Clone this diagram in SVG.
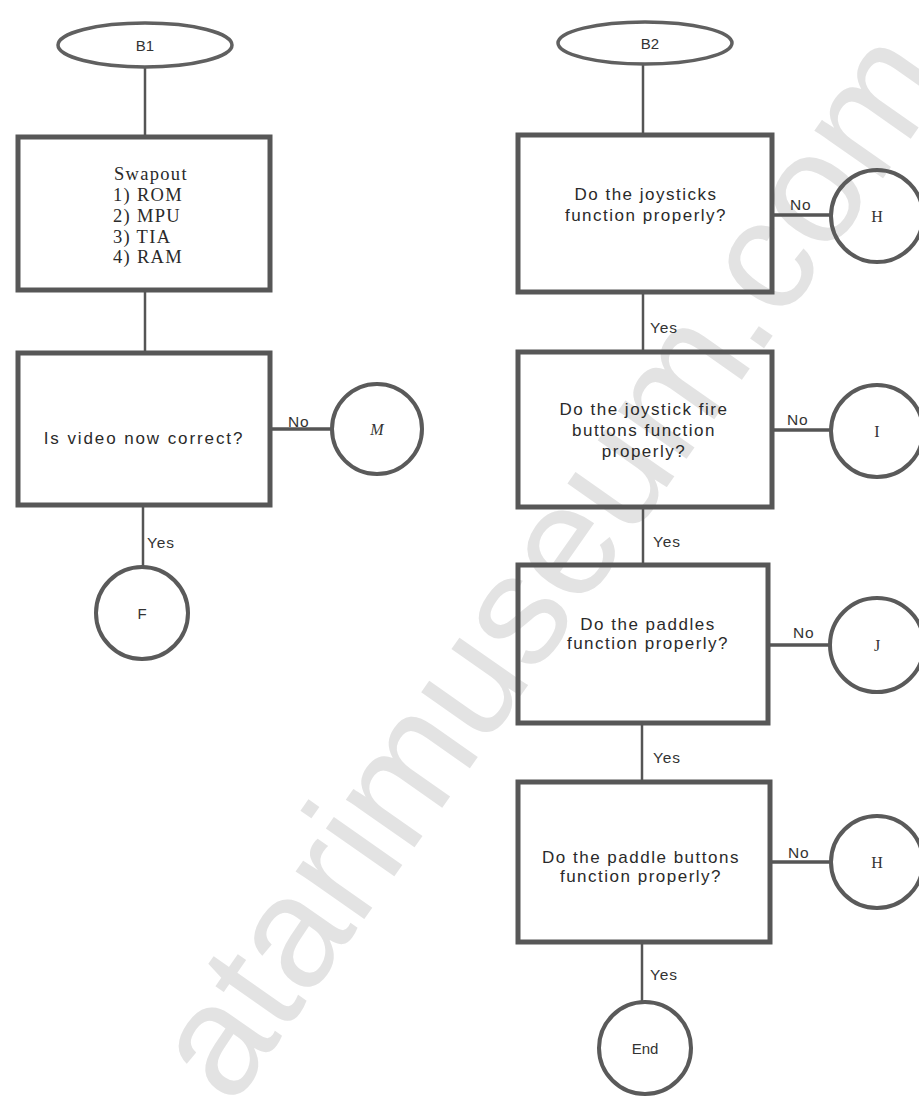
<svg xmlns="http://www.w3.org/2000/svg" width="919" height="1096" viewBox="0 0 919 1096">
<style>
  .box{fill:none;stroke:#575757;stroke-width:5}
  .circ{fill:none;stroke:#5a5a5a;stroke-width:4}
  .ell{fill:none;stroke:#606060;stroke-width:3.5}
  .conn line{stroke:#555;stroke-width:2.5}
  .conn line.no{stroke-width:3.5}
  .q{font-family:"Liberation Sans",Arial,sans-serif;font-size:17px;letter-spacing:1.5px;fill:#2a2a2a;text-anchor:middle}
  .sw{font-family:"Liberation Serif","Times New Roman",serif;font-size:18.5px;letter-spacing:1.3px;fill:#2a2a2a}
  .lbl{font-family:"Liberation Sans",Arial,sans-serif;font-size:15.5px;letter-spacing:0.8px;fill:#333}
  .cl{font-family:"Liberation Serif","Times New Roman",serif;font-size:16px;fill:#333;text-anchor:middle}
  .cs{font-family:"Liberation Sans",Arial,sans-serif;font-size:15px;fill:#333;text-anchor:middle}
  .wm{font-family:"Liberation Sans",Arial,sans-serif;font-size:158px;fill:#e3e3e3}
</style>
<rect width="919" height="1096" fill="#ffffff"/>
<text class="wm" transform="translate(232,1108) rotate(-55)">atarimuseum.com</text>

<g id="connectors" class="conn">
  <line x1="145" y1="67" x2="145" y2="137"/>
  <line x1="145" y1="290" x2="145" y2="353"/>
  <line class="no" x1="270" y1="429" x2="332" y2="429"/>
  <line x1="143" y1="505" x2="143" y2="567"/>
  <line x1="643" y1="64" x2="643" y2="135"/>
  <line class="no" x1="772" y1="215" x2="831" y2="215"/>
  <line x1="643" y1="292" x2="643" y2="352"/>
  <line class="no" x1="772" y1="430" x2="831" y2="430"/>
  <line x1="643" y1="507" x2="643" y2="565"/>
  <line class="no" x1="768" y1="645" x2="830" y2="645"/>
  <line x1="642" y1="723" x2="642" y2="782"/>
  <line class="no" x1="770" y1="862" x2="831" y2="862"/>
  <line x1="642" y1="942" x2="642" y2="1002"/>
  <text class="lbl" x="288" y="427">No</text>
  <text class="lbl" x="147" y="548">Yes</text>
  <text class="lbl" x="790" y="210">No</text>
  <text class="lbl" x="650" y="333">Yes</text>
  <text class="lbl" x="787" y="425">No</text>
  <text class="lbl" x="653" y="547">Yes</text>
  <text class="lbl" x="793" y="638">No</text>
  <text class="lbl" x="653" y="763">Yes</text>
  <text class="lbl" x="788" y="858">No</text>
  <text class="lbl" x="650" y="980">Yes</text>
</g>

<g id="B1">
  <ellipse class="ell" cx="145" cy="45" rx="87" ry="22"/>
  <text class="cs" x="145" y="51">B1</text>
</g>
<g id="swapout">
  <rect class="box" x="18" y="137" width="252" height="153"/>
  <text class="sw" x="114" y="180">Swapout</text>
  <text class="sw" x="113" y="201">1) ROM</text>
  <text class="sw" x="113" y="222">2) MPU</text>
  <text class="sw" x="113" y="243">3) TIA</text>
  <text class="sw" x="113" y="263">4) RAM</text>
</g>
<g id="video">
  <rect class="box" x="18" y="353" width="252" height="152"/>
  <text class="q" x="144" y="444" style="letter-spacing:1.9px">Is video now correct?</text>
</g>
<g id="M">
  <circle class="circ" cx="377" cy="429" r="45"/>
  <text class="cl" x="377" y="435" font-style="italic">M</text>
</g>
<g id="F">
  <circle class="circ" cx="142" cy="613" r="46"/>
  <text class="cs" x="142" y="619">F</text>
</g>

<g id="B2">
  <ellipse class="ell" cx="645" cy="43" rx="87" ry="21"/>
  <text class="cs" x="650" y="49">B2</text>
</g>
<g id="joysticks">
  <rect class="box" x="518" y="135" width="254" height="157"/>
  <text class="q" x="646" y="200">Do the joysticks</text>
  <text class="q" x="646" y="221">function properly?</text>
</g>
<g id="H1">
  <circle class="circ" cx="877" cy="216" r="46"/>
  <text class="cl" x="877" y="222">H</text>
</g>
<g id="fire">
  <rect class="box" x="518" y="352" width="254" height="155"/>
  <text class="q" x="644" y="415">Do the joystick fire</text>
  <text class="q" x="644" y="436">buttons function</text>
  <text class="q" x="644" y="457">properly?</text>
</g>
<g id="I">
  <circle class="circ" cx="877" cy="431" r="46"/>
  <text class="cl" x="877" y="437">I</text>
</g>
<g id="paddles">
  <rect class="box" x="518" y="565" width="250" height="158"/>
  <text class="q" x="648" y="630">Do the paddles</text>
  <text class="q" x="648" y="649">function properly?</text>
</g>
<g id="J">
  <circle class="circ" cx="877" cy="645" r="47"/>
  <text class="cl" x="877" y="651">J</text>
</g>
<g id="paddlebuttons">
  <rect class="box" x="518" y="782" width="252" height="160"/>
  <text class="q" x="641" y="863">Do the paddle buttons</text>
  <text class="q" x="641" y="882">function properly?</text>
</g>
<g id="H2">
  <circle class="circ" cx="877" cy="862" r="46"/>
  <text class="cl" x="877" y="868">H</text>
</g>
<g id="End">
  <circle class="circ" cx="645" cy="1048" r="46"/>
  <text class="cs" x="645" y="1054">End</text>
</g>
</svg>
